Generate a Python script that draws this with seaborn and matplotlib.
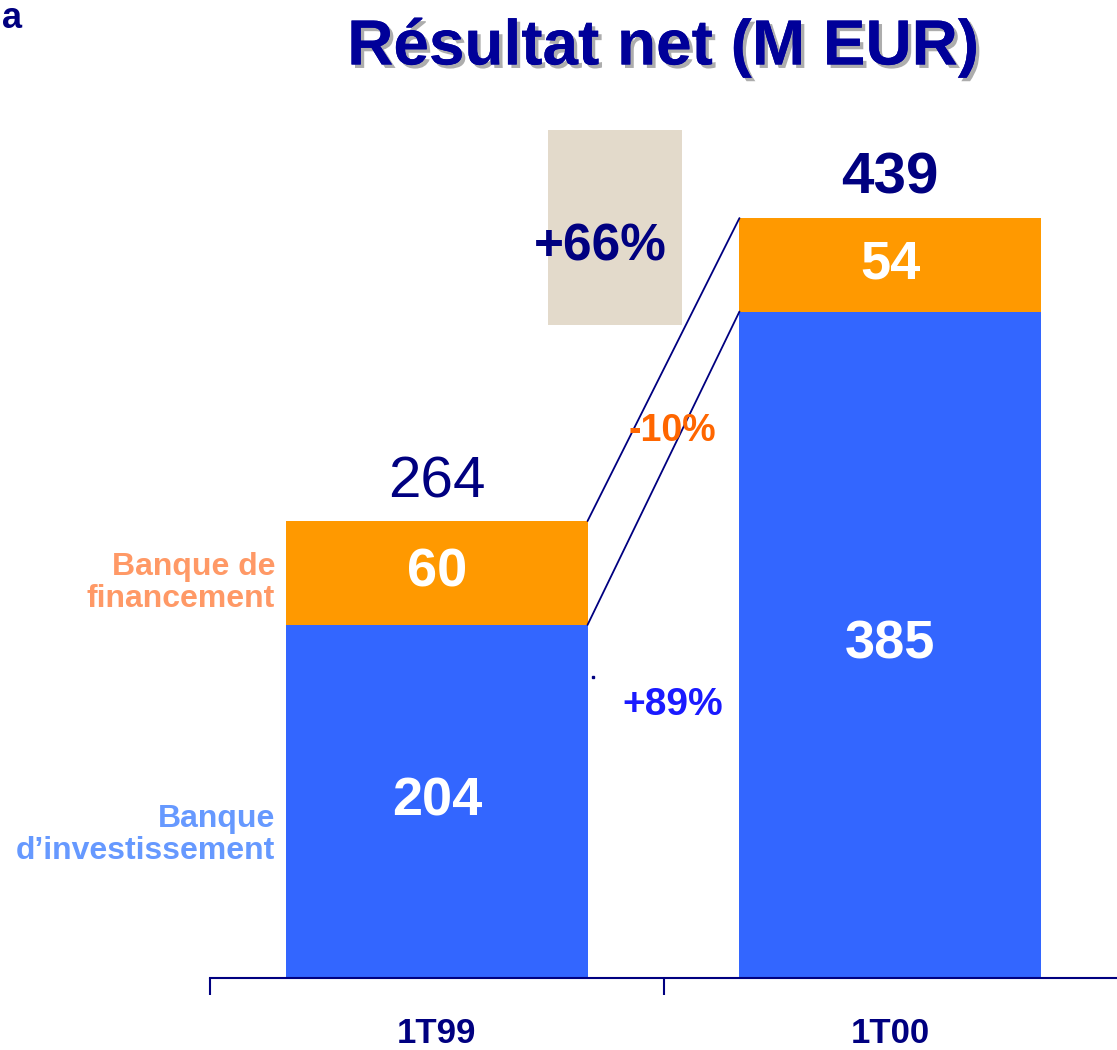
import matplotlib
matplotlib.use("Agg")
import matplotlib.pyplot as plt
import matplotlib.patheffects as pe
import seaborn as sns
import numpy as np

sns.set_theme(style="white")
plt.rcParams['font.family'] = ['Liberation Sans', 'DejaVu Sans']

# data
periods = ['1T99', '1T00']
invest = [204, 385]      # Banque d'investissement
financ = [60, 54]        # Banque de financement
totals = [264, 439]
growth_total = '+66%'
growth_financ = '-10%'
growth_invest = '+89%'

navy = '#000080'
title_navy = '#000099'
blue = '#3366ff'
orange = '#ff9900'
bar_w = 0.665

fig = plt.figure(figsize=(11.17, 10.5), dpi=100)
ax = fig.add_axes([210 / 1117, 72 / 1050, 907 / 1117, 878 / 1050])

# stacked bars: total in orange, investment part on top in blue
sns.barplot(x=periods, y=totals, color=orange, width=bar_w, saturation=1,
            edgecolor='none', linewidth=0, ax=ax)
sns.barplot(x=periods, y=invest, color=blue, width=bar_w, saturation=1,
            edgecolor='none', linewidth=0, ax=ax)

ax.set_xlim(-0.5, 1.5)
ax.set_ylim(0, 878 / 1.731)

# connector lines between bars
x0 = 0 + bar_w / 2
x1 = 1 - bar_w / 2
ax.plot([x0, x1], [totals[0], totals[1]], color=navy, lw=1.3)
ax.plot([x0, x1], [invest[0], invest[1]], color=navy, lw=1.3)

# value labels
for i in range(2):
    ax.text(i, invest[i] / 2, str(invest[i]), ha='center', va='center',
            color='white', fontsize=39, fontweight='bold')
    ax.text(i, invest[i] + financ[i] / 2, str(financ[i]), ha='center', va='center',
            color='white', fontsize=39, fontweight='bold')
ax.text(0, totals[0] + 22, str(totals[0]), ha='center', va='center',
        color=navy, fontsize=42)
ax.text(1, totals[1] + 23, str(totals[1]), ha='center', va='center',
        color=navy, fontsize=42, fontweight='bold')

# growth annotations
ax.text(0.52, 316, growth_financ, ha='center', va='center', color='#ff6600',
        fontsize=27, fontweight='bold')
ax.text(0.52, 158, growth_invest, ha='center', va='center', color='#1a1aff',
        fontsize=28, fontweight='bold')
fig.patches.append(plt.Rectangle((548 / 1117, 1 - 325 / 1050), 134 / 1117, 195 / 1050,
                                 transform=fig.transFigure, facecolor='#e3dacb',
                                 edgecolor='none', zorder=0))
fig.text(600 / 1117, 1 - 247 / 1050, growth_total, ha='center', va='center',
         color=navy, fontsize=37, fontweight='bold')
ax.plot([0.345], [174], marker='s', ms=1.5, color=navy)

# segment names on the left
fig.text(275 / 1117, 1 - 583 / 1050, 'Banque de\nfinancement', ha='right', va='center',
         color='#ff9966', fontsize=23, fontweight='bold', linespacing=1.12)
fig.text(275 / 1117, 1 - 835 / 1050, 'Banque\nd\u2019investissement', ha='right', va='center',
         color='#6699ff', fontsize=23, fontweight='bold', linespacing=1.12)

# title with shadow
fig.text(663 / 1117, 1 - 47 / 1050, 'Résultat net (M EUR)', ha='center', va='center',
         color=title_navy, fontsize=46, fontweight='bold',
         path_effects=[pe.withSimplePatchShadow(offset=(2.5, -2.5), shadow_rgbFace='#999999', alpha=0.8),
                       pe.Normal()])
fig.text(2 / 1117, 1 - 1 / 1050, 'a', ha='left', va='top', color=navy,
         fontsize=26, fontweight='bold')

# axes styling
sns.despine(ax=ax, left=True, top=True, right=True)
ax.spines['bottom'].set_color(navy)
ax.spines['bottom'].set_linewidth(1.5)
ax.set_yticks([])
ax.set_xticks([0, 1])
ax.set_xticklabels(periods, fontsize=25, fontweight='bold', color=navy,
                   family=['Liberation Sans Narrow', 'Liberation Sans'])
ax.tick_params(axis='x', which='major', length=0, pad=28)
ax.set_xticks([-0.5, 0.5], minor=True)
ax.tick_params(axis='x', which='minor', bottom=True, length=12, width=1.5,
               color=navy, direction='out')
ax.grid(False)
ax.set_xlabel('')
ax.set_ylabel('')

fig.savefig('out.png', dpi=100)
